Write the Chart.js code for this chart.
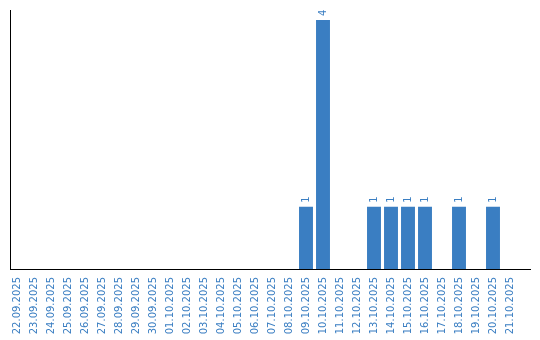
<!DOCTYPE html>
<html>
<head>
<meta charset="utf-8">
<script src="https://cdn.jsdelivr.net/npm/chart.js@4.4.0/dist/chart.umd.min.js"></script>
<style>
html,body{margin:0;padding:0;background:#fff;}
#wrap{width:540px;height:340px;position:relative;}
</style>
</head>
<body>
<div id="wrap"><canvas id="c" width="540" height="340"></canvas></div>
<script>
const categories = ["22.09.2025","23.09.2025","24.09.2025","25.09.2025","26.09.2025","27.09.2025","28.09.2025","29.09.2025","30.09.2025","01.10.2025","02.10.2025","03.10.2025","04.10.2025","05.10.2025","06.10.2025","07.10.2025","08.10.2025","09.10.2025","10.10.2025","11.10.2025","12.10.2025","13.10.2025","14.10.2025","15.10.2025","16.10.2025","17.10.2025","18.10.2025","19.10.2025","20.10.2025","21.10.2025"];
const counts = [0,0,0,0,0,0,0,0,0,0,0,0,0,0,0,0,0,1,4,0,0,1,1,1,1,0,1,0,1,0];

const BLUE = '#3a7ec2';
const FONT = '10px "DejaVu Sans"';

const axisLines = {
  id: 'axisLines',
  afterDraw(chart) {
    const ctx = chart.ctx, a = chart.chartArea;
    ctx.save();
    ctx.fillStyle = '#000';
    ctx.fillRect(10, a.top, 1, a.bottom - a.top + 1);
    ctx.fillRect(10, a.bottom, 521, 1);
    ctx.restore();
  }
};

const valueLabels = {
  id: 'valueLabels',
  afterDatasetsDraw(chart) {
    const ctx = chart.ctx;
    const meta = chart.getDatasetMeta(0);
    ctx.save();
    ctx.fillStyle = BLUE;
    ctx.font = FONT;
    ctx.textAlign = 'left';
    ctx.textBaseline = 'middle';
    meta.data.forEach((el, i) => {
      const v = counts[i];
      if (!v) return;
      ctx.save();
      ctx.translate(el.x, el.y - 4);
      ctx.rotate(-Math.PI / 2);
      ctx.fillText(String(v), 0, 0);
      ctx.restore();
    });
    ctx.restore();
  }
};

new Chart(document.getElementById('c'), {
  type: 'bar',
  data: {
    labels: categories,
    datasets: [{
      data: counts,
      backgroundColor: BLUE,
      borderWidth: 0,
      categoryPercentage: 1,
      barPercentage: 0.82
    }]
  },
  options: {
    responsive: false,
    animation: false,
    devicePixelRatio: 1,
    layout: { padding: { left: 8.5, right: 21.5, top: 10, bottom: 0 } },
    plugins: { legend: { display: false }, tooltip: { enabled: false } },
    scales: {
      x: {
        grid: { display: false, drawTicks: false },
        border: { display: false },
        ticks: {
          color: BLUE,
          font: { family: 'DejaVu Sans', size: 10 },
          minRotation: 90,
          maxRotation: 90,
          autoSkip: false,
          padding: 8
        },
        afterFit(s) { s.height = 71; }
      },
      y: {
        display: false,
        min: 0,
        max: 4.16
      }
    }
  },
  plugins: [axisLines, valueLabels]
});
</script>
</body>
</html>
